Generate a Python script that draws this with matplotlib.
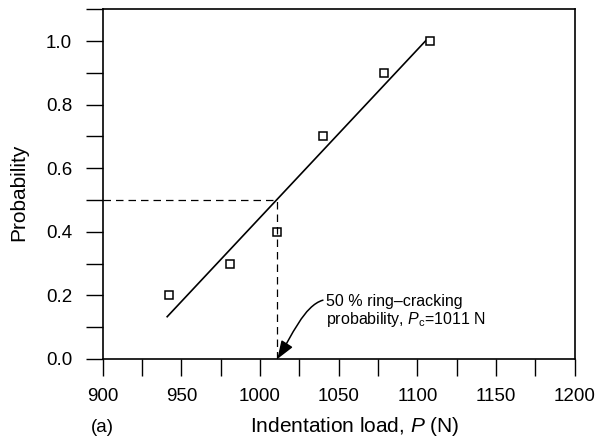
import matplotlib
matplotlib.use("Agg")
import matplotlib.pyplot as plt
from matplotlib.patches import FancyArrowPatch
from matplotlib.path import Path
from matplotlib.ticker import MultipleLocator, FormatStrFormatter

# measured points (indentation load in N, probability)
load = [942, 981, 1011, 1040, 1079, 1108]
prob = [0.2, 0.3, 0.4, 0.7, 0.9, 1.0]

# fitted line end points
fit_load = [941, 1107]
fit_prob = [0.133, 1.01]

pc = 1011
p50 = 0.5

plt.rcParams["font.family"] = ["Liberation Sans", "DejaVu Sans"]
plt.rcParams["mathtext.fontset"] = "custom"
plt.rcParams["mathtext.rm"] = "Liberation Sans"
plt.rcParams["mathtext.it"] = "Liberation Sans:italic"

fig = plt.figure(figsize=(5.98, 4.42), dpi=100)
ax = fig.add_axes([0.1717, 0.1878, 0.961 - 0.1717, 0.979 - 0.1878])

ax.plot(fit_load, fit_prob, color="black", linewidth=1.2)
ax.plot(load, prob, linestyle="none", marker="s", markersize=6,
        markerfacecolor="white", markeredgecolor="black", markeredgewidth=1.1)

# dashed guides to the 50 % point
ax.plot([900, pc], [p50, p50], color="black", linestyle=(0, (6, 4)), linewidth=0.9)
ax.plot([pc, pc], [0, p50], color="black", linestyle=(0, (6, 4)), linewidth=0.9)

# curved arrow from the note down to Pc
verts = [(pc + 29, 0.185), (pc + 17, 0.168), (pc + 9, 0.07), (pc, 0.0)]
arrow_path = Path(verts, [Path.MOVETO, Path.CURVE4, Path.CURVE4, Path.CURVE4])
arr = FancyArrowPatch(path=arrow_path,
                      arrowstyle="-|>,head_length=0.55,head_width=0.2",
                      mutation_scale=20, color="black", lw=1.1,
                      transform=ax.transData, clip_on=False)
ax.add_patch(arr)
ax.text(pc + 31, 0.15, "50 % ring\u2013cracking\nprobability, $P_\\mathrm{c}$=1011 N",
        fontsize=11.5, ha="left", va="center", linespacing=1.05)

ax.set_xlim(900, 1200)
ax.set_ylim(0, 1.1)
ax.xaxis.set_major_locator(MultipleLocator(50))
ax.xaxis.set_minor_locator(MultipleLocator(25))
ax.yaxis.set_major_locator(MultipleLocator(0.2))
ax.yaxis.set_minor_locator(MultipleLocator(0.1))
ax.yaxis.set_major_formatter(FormatStrFormatter("%.1f"))
ax.tick_params(which="both", direction="out", length=12, width=1.0,
               labelsize=13.5, top=False, right=False)
ax.tick_params(axis="x", pad=9)
ax.tick_params(axis="y", pad=10)
for sp in ax.spines.values():
    sp.set_linewidth(1.2)

ax.set_ylabel("Probability", fontsize=15, va="center", ha="center")
ax.yaxis.set_label_coords(-0.178, 0.477)
ax.set_xlabel("Indentation load, $P$ (N)", fontsize=15, va="center", ha="center")
ax.xaxis.set_label_coords(0.534, -0.194)
fig.text(0.172, 0.032, "(a)", fontsize=13.5, ha="center", va="center")

fig.savefig("out.png", dpi=100)
